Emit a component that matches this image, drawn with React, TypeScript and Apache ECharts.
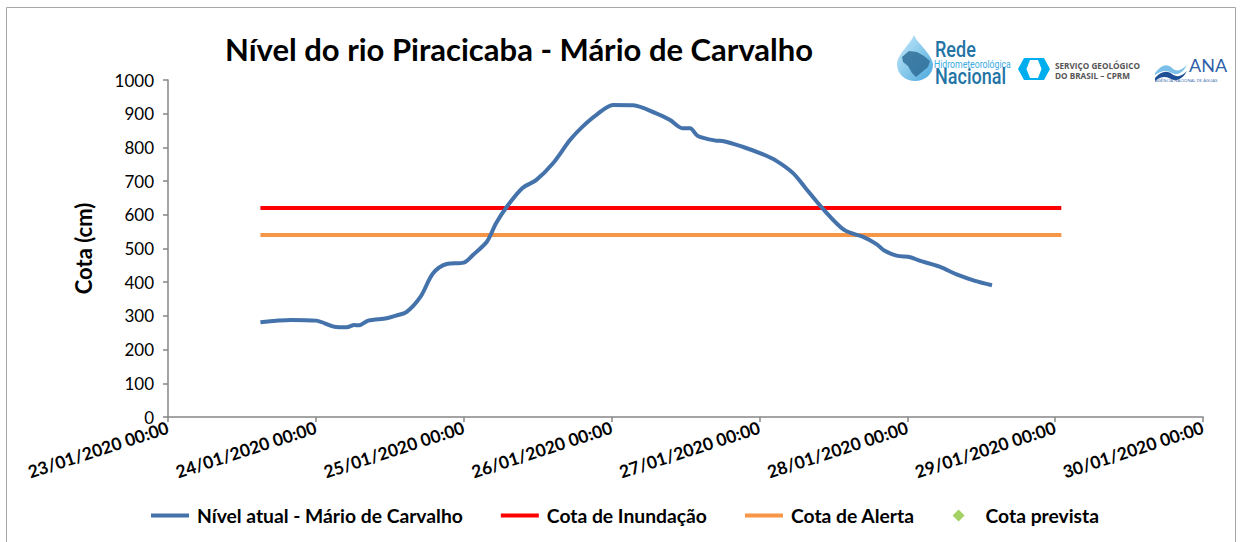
import React, { useEffect, useRef } from "react";
import * as echarts from "echarts";

// ---------- DATA ----------
const levelTimes = [
  "2020-01-23 15:00", "2020-01-23 20:00", "2020-01-24 00:00", "2020-01-24 03:00",
  "2020-01-24 05:00", "2020-01-24 06:15", "2020-01-24 07:00", "2020-01-24 08:30",
  "2020-01-24 11:30", "2020-01-24 13:00", "2020-01-24 14:45", "2020-01-24 17:00",
  "2020-01-24 19:00", "2020-01-24 21:15", "2020-01-25 00:00", "2020-01-25 01:30",
  "2020-01-25 03:45", "2020-01-25 05:15", "2020-01-25 07:00", "2020-01-25 09:30",
  "2020-01-25 11:45", "2020-01-25 14:30", "2020-01-25 17:15", "2020-01-25 19:15",
  "2020-01-25 21:30", "2020-01-26 00:15", "2020-01-26 03:30", "2020-01-26 07:15",
  "2020-01-26 09:30", "2020-01-26 11:30", "2020-01-26 12:45", "2020-01-26 14:00",
  "2020-01-26 17:00", "2020-01-26 18:00", "2020-01-26 21:15", "2020-01-27 00:30",
  "2020-01-27 02:45", "2020-01-27 05:30", "2020-01-27 07:30", "2020-01-27 10:15",
  "2020-01-27 13:45", "2020-01-27 16:45", "2020-01-27 19:00", "2020-01-27 20:15",
  "2020-01-27 22:15", "2020-01-28 00:30", "2020-01-28 02:00", "2020-01-28 05:15",
  "2020-01-28 08:00", "2020-01-28 11:00", "2020-01-28 13:45",
];
const levelValues = [
  281, 288, 286, 268,
  266, 273, 272, 286,
  293, 301, 312, 357,
  426, 454, 458, 481,
  520, 575, 624, 679,
  703, 753, 822, 861,
  896, 926, 925, 901,
  881, 857, 857, 834,
  820, 819, 802, 780,
  760, 723, 679, 619,
  555, 535, 513, 494,
  479, 474, 464, 446,
  423, 404, 391,
];
const thresholdTimes = ["2020-01-23 15:00", "2020-01-29 01:00"];
const inundationLevel = 620;
const alertLevel = 540;
const forecastValues: [string, number][] = [];

const axisStart = "2020-01-23 00:00";
const axisEnd = "2020-01-30 00:00";
const yMin = 0;
const yMax = 1000;
const yStep = 100;

const seriesNames = [
  "Nível atual - Mário de Carvalho",
  "Cota de Inundação",
  "Cota de Alerta",
  "Cota prevista",
];
const titleText = "Nível do rio Piracicaba - Mário de Carvalho";
const yAxisName = "Cota (cm)";

// ---------- HELPERS ----------
const DAY = 86400000;
function toMs(s: string): number {
  const [d, t] = s.split(" ");
  const [Y, M, D] = d.split("-").map(Number);
  const [h, m] = t.split(":").map(Number);
  return Date.UTC(Y, M - 1, D, h, m);
}
const pad = (n: number) => (n < 10 ? "0" + n : "" + n);
function fmt(ms: number): string {
  const d = new Date(ms);
  return `${pad(d.getUTCDate())}/${pad(d.getUTCMonth() + 1)}/${d.getUTCFullYear()} ${pad(
    d.getUTCHours()
  )}:${pad(d.getUTCMinutes())}`;
}

// ---------- LOGO SHAPES ----------
let registered = false;
function registerShapes() {
  if (registered) return;
  registered = true;
  echarts.graphic.registerShape(
    "drop",
    echarts.graphic.extendPath(
      "M17 0 C20 8 36 20 36 30 C36 39 28 46 18 46 C8 46 0 39 0 29 C0 20 14 8 17 0 Z",
      {}
    )
  );
  echarts.graphic.registerShape(
    "waveLight",
    echarts.graphic.extendPath(
      "M0 11 C6 3 12 1 17 6 C21 10 26 9 32 3 C28 11 22 14 17 11 C12 8 7 8 0 13 Z",
      {}
    )
  );
  echarts.graphic.registerShape(
    "waveDark",
    echarts.graphic.extendPath(
      "M0 16 C6 9 12 8 17 12 C22 16 27 14 32 9 C28 17 21 20 16 17 C11 14 6 14 0 19 Z",
      {}
    )
  );
}

const FONT = "Lato, 'Open Sans', sans-serif";
const LINE_ICON = "path://M0 0 H38 V4 H0 Z";
const DIAMOND_ICON = "path://M5 0 L10 5 L5 10 L0 5 Z";

export default function App() {
  const ref = useRef<HTMLDivElement>(null);

  useEffect(() => {
    if (!ref.current) return;
    registerShapes();
    const chart = echarts.init(ref.current, null, { renderer: "svg" });

    const levelData = levelTimes.map((t, i) => [toMs(t), levelValues[i]]);
    const inundData = thresholdTimes.map((t) => [toMs(t), inundationLevel]);
    const alertData = thresholdTimes.map((t) => [toMs(t), alertLevel]);
    const forecastData = forecastValues.map(([t, v]) => [toMs(t), v]);

    const option: any = {
      animation: false,
      backgroundColor: "#ffffff",
      title: {
        text: titleText,
        left: 220,
        top: 28,
        textStyle: {
          fontFamily: FONT,
          fontWeight: "bold",
          fontSize: 31,
          color: "#000000",
        },
      },
      grid: { left: 168, right: 37, top: 80, bottom: 125, containLabel: false },
      legend: {
        left: 146,
        top: 501,
        itemWidth: 38,
        itemHeight: 12,
        itemGap: 38,
        symbolKeepAspect: true,
        textStyle: {
          fontFamily: FONT,
          fontWeight: "bold",
          fontSize: 19.3,
          color: "#000000",
          padding: [0, 0, 0, 3],
        },
        data: [
          { name: seriesNames[0], icon: LINE_ICON },
          { name: seriesNames[1], icon: LINE_ICON },
          { name: seriesNames[2], icon: LINE_ICON },
          { name: seriesNames[3], icon: DIAMOND_ICON },
        ],
      },
      xAxis: {
        type: "value",
        min: toMs(axisStart),
        max: toMs(axisEnd),
        interval: DAY,
        axisLine: { show: true, lineStyle: { color: "#868686", width: 1.5 } },
        axisTick: { show: true, length: 5, lineStyle: { color: "#868686", width: 1.5 } },
        splitLine: { show: false },
        axisLabel: {
          rotate: 18,
          margin: 10,
          fontFamily: FONT,
          fontWeight: "bold",
          fontSize: 17.5,
          color: "#000000",
          formatter: (v: number) => fmt(v),
        },
      },
      yAxis: {
        type: "value",
        min: yMin,
        max: yMax,
        interval: yStep,
        name: yAxisName,
        nameLocation: "middle",
        nameRotate: 90,
        nameGap: 74,
        nameTextStyle: {
          fontFamily: FONT,
          fontWeight: "bold",
          fontSize: 22,
          color: "#000000",
        },
        axisLine: { show: true, lineStyle: { color: "#868686", width: 1.5 } },
        axisTick: { show: true, length: 5, lineStyle: { color: "#868686", width: 1.5 } },
        splitLine: { show: false },
        axisLabel: {
          margin: 14,
          fontFamily: FONT,
          fontSize: 17,
          color: "#000000",
          formatter: (v: number) => String(v),
        },
      },
      series: [
        {
          name: seriesNames[0],
          type: "line",
          data: levelData,
          symbol: "none",
          smooth: 0.3,
          lineStyle: { color: "#4472ab", width: 4 },
          itemStyle: { color: "#4472ab" },
          z: 5,
        },
        {
          name: seriesNames[1],
          type: "line",
          data: inundData,
          symbol: "none",
          lineStyle: { color: "#ff0000", width: 4 },
          itemStyle: { color: "#ff0000" },
          z: 3,
        },
        {
          name: seriesNames[2],
          type: "line",
          data: alertData,
          symbol: "none",
          lineStyle: { color: "#f79646", width: 4 },
          itemStyle: { color: "#f79646" },
          z: 3,
        },
        {
          name: seriesNames[3],
          type: "scatter",
          data: forecastData,
          symbol: "diamond",
          symbolSize: 9,
          itemStyle: { color: "#8cc63f" },
        },
      ],
      graphic: [
        // outer frame
        {
          type: "rect",
          shape: { x: 6.5, y: 7.5, width: 1229, height: 600 },
          style: { fill: "none", stroke: "#a6a6a6", lineWidth: 1 },
          silent: true,
        },
        // Rede Hidrometeorológica Nacional logo
        {
          type: "drop",
          x: 897,
          y: 35,
          style: {
            fill: new echarts.graphic.LinearGradient(0, 0, 1, 1, [
              { offset: 0, color: "#c9ebfb" },
              { offset: 1, color: "#4aa8dc" },
            ]),
          },
        },
        {
          type: "polygon",
          shape: {
            points: [
              [902, 57], [909, 51], [917, 52], [924, 56], [930, 61], [928, 67],
              [922, 72], [916, 77], [912, 73], [908, 66], [903, 62],
            ],
          },
          style: { fill: "#2f6f98", opacity: 0.85 },
        },
        {
          type: "text",
          x: 935,
          y: 38,
          scaleX: 0.82,
          style: {
            text: "Rede",
            font: "500 22px Roboto, sans-serif",
            fill: "#2274a5",
            textVerticalAlign: "top",
          },
        },
        {
          type: "text",
          x: 934,
          y: 58.5,
          scaleX: 0.82,
          style: {
            text: "Hidrometeorológica",
            font: "10.6px Roboto, sans-serif",
            fill: "#3aaae2",
            textVerticalAlign: "top",
          },
        },
        {
          type: "text",
          x: 935,
          y: 65,
          scaleX: 0.82,
          style: {
            text: "Nacional",
            font: "500 22px Roboto, sans-serif",
            fill: "#2274a5",
            textVerticalAlign: "top",
          },
        },
        // CPRM logo
        {
          type: "polygon",
          shape: {
            points: [
              [1018, 69], [1024, 58], [1044, 58], [1050, 69], [1044, 80], [1024, 80],
            ],
          },
          style: { fill: "#00aeef" },
        },
        {
          type: "polygon",
          shape: {
            points: [
              [1030, 60], [1038, 60], [1041.5, 69], [1038, 78], [1030, 78], [1026.5, 69],
            ],
          },
          style: { fill: "#ffffff" },
        },
        {
          type: "text",
          x: 1055,
          y: 61,
          style: {
            text: "SERVIÇO GEOLÓGICO",
            font: "bold 8.2px 'Open Sans', sans-serif",
            fill: "#555555",
            textVerticalAlign: "top",
          },
        },
        {
          type: "text",
          x: 1055,
          y: 71.5,
          style: {
            text: "DO BRASIL – CPRM",
            font: "bold 8.2px 'Open Sans', sans-serif",
            fill: "#555555",
            textVerticalAlign: "top",
          },
        },
        // ANA logo
        { type: "waveLight", x: 1155, y: 62, style: { fill: "#7cc0ea" } },
        { type: "waveDark", x: 1155, y: 62, style: { fill: "#1e4f96" } },
        {
          type: "text",
          x: 1189,
          y: 56,
          style: {
            text: "ANA",
            font: "18px Lato, sans-serif",
            fill: "#2f5fa8",
            textVerticalAlign: "top",
          },
        },
        {
          type: "text",
          x: 1155,
          y: 78,
          style: {
            text: "AGÊNCIA NACIONAL DE ÁGUAS",
            font: "4.3px 'Open Sans', sans-serif",
            fill: "#2f5fa8",
            textVerticalAlign: "top",
          },
        },
      ],
    };

    chart.setOption(option);
    return () => chart.dispose();
  }, []);

  return (
    <div
      ref={ref}
      style={{ position: "fixed", left: 0, top: 0, width: 1240, height: 542 }}
    />
  );
}
